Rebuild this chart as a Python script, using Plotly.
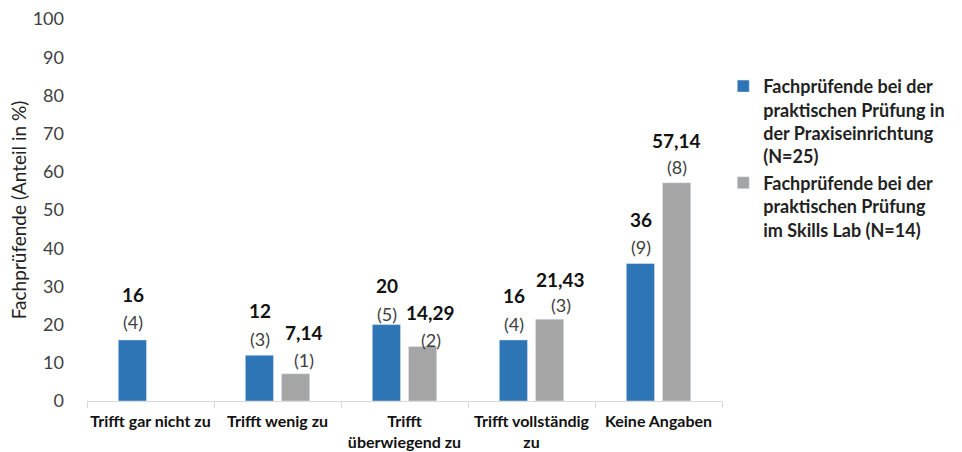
import plotly.graph_objects as go

# Survey answers and results (share in %, counts in brackets)
categories = ["Trifft gar nicht zu", "Trifft wenig zu", "Trifft<br>überwiegend zu",
              "Trifft vollständig<br>zu", "Keine Angaben"]
praxis_pct = [16, 12, 20, 16, 36]
praxis_n = [4, 3, 5, 4, 9]
skills_pct = [None, 7.14, 14.29, 21.43, 57.14]
skills_n = [None, 1, 2, 3, 8]

name_praxis = "Fachprüfende bei der<br>praktischen Prüfung in<br>der Praxiseinrichtung<br>(N=25)"
name_skills = "Fachprüfende bei der<br>praktischen Prüfung<br>im Skills Lab (N=14)"

BLUE = "#2E75B6"
GRAY = "#A5A5A5"
FONT = "Lato"

fig = go.Figure()
fig.add_trace(go.Bar(x=categories, y=praxis_pct, name=name_praxis,
                     marker_color=BLUE, hoverinfo="skip"))
fig.add_trace(go.Bar(x=categories, y=skills_pct, name=name_skills,
                     marker_color=GRAY, hoverinfo="skip"))


def fmt(v):
    return str(int(v)) if float(v).is_integer() else f"{v:.2f}".replace(".", ",")


# label placement: horizontal offset of the bar centre plus small nudges
BAR_OFFSET = 18
skills_xnudge = [0, 8, 8, 11, 0]
praxis_count_dy = [18, 16, 11, 16, 16]
praxis_value_dy = [45, 45, 39, 44, 44]
skills_count_dy = [0, 14, 6, 14, 16]
skills_value_dy = [0, 41, 34, 40, 42]

annotations = []
for i, cat in enumerate(categories):
    groups = [(praxis_pct[i], praxis_n[i], -BAR_OFFSET, praxis_count_dy[i], praxis_value_dy[i])]
    if skills_pct[i] is not None:
        groups.append((skills_pct[i], skills_n[i], BAR_OFFSET + skills_xnudge[i],
                       skills_count_dy[i], skills_value_dy[i]))
    for val, n, dx, dy_n, dy_v in groups:
        annotations.append(dict(x=cat, y=val, xref="x", yref="y", xshift=dx, yshift=dy_n,
                                text=f"({n})", showarrow=False, yanchor="middle",
                                font=dict(family=FONT, size=18, color="#404040")))
        annotations.append(dict(x=cat, y=val, xref="x", yref="y", xshift=dx, yshift=dy_v,
                                text=f"<b>{fmt(val)}</b>", showarrow=False, yanchor="middle",
                                font=dict(family=FONT, size=19, color="#111111")))

fig.update_layout(
    width=962, height=452,
    margin=dict(l=87, r=240, t=19, b=51),
    paper_bgcolor="white", plot_bgcolor="white",
    barmode="group", bargap=0.43, bargroupgap=0.22,
    font=dict(family=FONT, color="#404040"),
    annotations=annotations,
    legend=dict(x=1.002, y=0.872, xanchor="left", yanchor="top",
                font=dict(family=FONT, size=18, color="#222222", weight="bold"),
                valign="top", tracegroupgap=2, itemwidth=30,
                itemclick=False, itemdoubleclick=False),
    xaxis=dict(showline=True, linecolor="#D9D9D9", linewidth=1, automargin=False,
               ticks="outside", tickson="boundaries", ticklen=6, tickcolor="#D9D9D9",
               ticklabelstandoff=6, tickangle=0,
               tickfont=dict(family=FONT, size=16, color="#111111", weight="bold"),
               showgrid=False),
    yaxis=dict(range=[0, 100], dtick=10, showgrid=False, showline=False, zeroline=False,
               automargin=False, ticks="", ticklabelstandoff=22,
               tickfont=dict(family=FONT, size=18, color="#404040"),
               title=dict(text="Fachprüfende (Anteil in %)", standoff=1,
                          font=dict(family=FONT, size=19, color="#222222"))),
)

fig.write_html("out.html")
